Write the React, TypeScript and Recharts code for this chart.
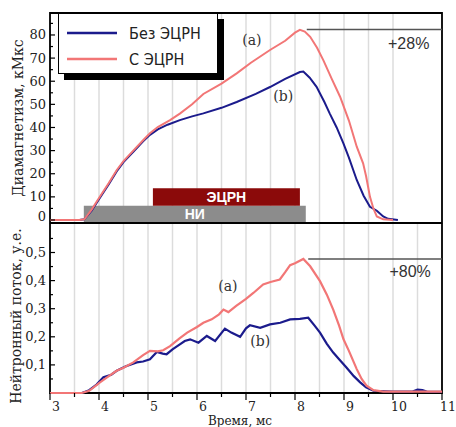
import { LineChart, Line, XAxis, YAxis, CartesianGrid, ReferenceArea, ReferenceLine, ReferenceDot, Legend } from "recharts";

const SERIF = "'DejaVu Serif', serif";
const SANS = "'Liberation Sans', Arial, sans-serif";

// time axis, ms
const timeTicks = [3, 3.5, 4, 4.5, 5, 5.5, 6, 6.5, 7, 7.5, 8, 8.5, 9, 9.5, 10, 10.5, 11];
const diaTicks = [0, 5, 10, 15, 20, 25, 30, 35, 40, 45, 50, 55, 60, 65, 70, 75, 80, 85];
const fluxTicks = [0.05, 0.1, 0.15, 0.2, 0.25, 0.3, 0.35, 0.4, 0.45, 0.5, 0.55];

// диамагнетизм, кМкс
const diaNoEcrh = [
  { t: 3.0, v: 0 }, { t: 3.6, v: 0 }, { t: 3.7, v: 0.3 }, { t: 3.85, v: 4 }, { t: 4.0, v: 9 },
  { t: 4.2, v: 15.5 }, { t: 4.36, v: 21 }, { t: 4.5, v: 25 }, { t: 4.7, v: 29.5 }, { t: 4.9, v: 34 },
  { t: 5.04, v: 36.8 }, { t: 5.2, v: 39.2 }, { t: 5.4, v: 41.2 }, { t: 5.65, v: 43.2 }, { t: 5.9, v: 44.8 },
  { t: 6.13, v: 46.1 }, { t: 6.5, v: 48.5 }, { t: 6.81, v: 51 }, { t: 7.2, v: 54.5 }, { t: 7.49, v: 57.5 },
  { t: 7.8, v: 61 }, { t: 8.1, v: 64 }, { t: 8.17, v: 64.2 }, { t: 8.3, v: 61.5 }, { t: 8.44, v: 57.6 },
  { t: 8.6, v: 51 }, { t: 8.71, v: 46 }, { t: 8.85, v: 40 }, { t: 8.99, v: 33 }, { t: 9.1, v: 27 },
  { t: 9.26, v: 17.3 }, { t: 9.4, v: 10.5 }, { t: 9.53, v: 5.7 }, { t: 9.67, v: 4 }, { t: 9.8, v: 1.5 },
  { t: 9.9, v: 0.5 }, { t: 10.1, v: 0 },
];
const diaEcrh = [
  { t: 3.0, v: 0 }, { t: 3.6, v: 0 }, { t: 3.7, v: 0.3 }, { t: 3.85, v: 4.5 }, { t: 4.0, v: 9.5 },
  { t: 4.2, v: 16 }, { t: 4.36, v: 21.5 }, { t: 4.5, v: 25.5 }, { t: 4.7, v: 30 }, { t: 4.9, v: 34.5 },
  { t: 5.04, v: 37.5 }, { t: 5.2, v: 40.2 }, { t: 5.45, v: 43.2 }, { t: 5.65, v: 46 }, { t: 5.9, v: 50 },
  { t: 6.13, v: 54.5 }, { t: 6.5, v: 59 }, { t: 6.81, v: 63.4 }, { t: 7.1, v: 68 }, { t: 7.49, v: 73.5 },
  { t: 7.8, v: 77.5 }, { t: 8.0, v: 81 }, { t: 8.1, v: 82.2 }, { t: 8.2, v: 81.5 }, { t: 8.31, v: 79.2 },
  { t: 8.45, v: 74.5 }, { t: 8.58, v: 69 }, { t: 8.75, v: 61 }, { t: 8.92, v: 53.3 }, { t: 9.1, v: 43 },
  { t: 9.26, v: 31.7 }, { t: 9.39, v: 24.5 }, { t: 9.45, v: 19 }, { t: 9.53, v: 10 }, { t: 9.6, v: 5 },
  { t: 9.67, v: 1.5 }, { t: 9.8, v: 0.3 }, { t: 10.0, v: 0 },
];

// нейтронный поток, у.е.
const fluxNoEcrh = [
  { t: 3.0, v: 0 }, { t: 3.65, v: 0 }, { t: 3.8, v: 0.01 }, { t: 3.95, v: 0.03 }, { t: 4.09, v: 0.056 },
  { t: 4.25, v: 0.065 }, { t: 4.36, v: 0.079 }, { t: 4.55, v: 0.095 }, { t: 4.77, v: 0.109 }, { t: 4.9, v: 0.112 },
  { t: 5.04, v: 0.12 }, { t: 5.18, v: 0.146 }, { t: 5.3, v: 0.14 }, { t: 5.38, v: 0.138 }, { t: 5.5, v: 0.155 },
  { t: 5.65, v: 0.173 }, { t: 5.75, v: 0.185 }, { t: 5.86, v: 0.191 }, { t: 6.03, v: 0.179 }, { t: 6.2, v: 0.203 },
  { t: 6.37, v: 0.185 }, { t: 6.57, v: 0.229 }, { t: 6.7, v: 0.215 }, { t: 6.88, v: 0.2 }, { t: 7.0, v: 0.23 },
  { t: 7.08, v: 0.241 }, { t: 7.29, v: 0.232 }, { t: 7.49, v: 0.244 }, { t: 7.7, v: 0.25 }, { t: 7.9, v: 0.262 },
  { t: 8.1, v: 0.264 }, { t: 8.27, v: 0.268 }, { t: 8.4, v: 0.24 }, { t: 8.51, v: 0.215 }, { t: 8.65, v: 0.175 },
  { t: 8.78, v: 0.144 }, { t: 8.9, v: 0.12 }, { t: 9.05, v: 0.091 }, { t: 9.2, v: 0.06 }, { t: 9.33, v: 0.038 },
  { t: 9.45, v: 0.02 }, { t: 9.6, v: 0.008 }, { t: 10.0, v: 0.005 }, { t: 10.4, v: 0.005 }, { t: 10.5, v: 0.012 },
  { t: 10.6, v: 0.01 }, { t: 10.7, v: 0.004 }, { t: 11.0, v: 0.004 },
];
const fluxEcrh = [
  { t: 3.0, v: 0 }, { t: 3.65, v: 0 }, { t: 3.8, v: 0.008 }, { t: 4.02, v: 0.038 }, { t: 4.2, v: 0.06 },
  { t: 4.36, v: 0.079 }, { t: 4.5, v: 0.09 }, { t: 4.7, v: 0.109 }, { t: 4.9, v: 0.135 }, { t: 5.04, v: 0.15 },
  { t: 5.2, v: 0.148 }, { t: 5.31, v: 0.152 }, { t: 5.45, v: 0.167 }, { t: 5.65, v: 0.195 }, { t: 5.8, v: 0.215 },
  { t: 6.0, v: 0.235 }, { t: 6.13, v: 0.25 }, { t: 6.3, v: 0.262 }, { t: 6.45, v: 0.28 }, { t: 6.54, v: 0.297 },
  { t: 6.64, v: 0.288 }, { t: 6.8, v: 0.31 }, { t: 7.0, v: 0.335 }, { t: 7.15, v: 0.356 }, { t: 7.35, v: 0.386 },
  { t: 7.5, v: 0.395 }, { t: 7.69, v: 0.404 }, { t: 7.8, v: 0.43 }, { t: 7.9, v: 0.455 }, { t: 8.0, v: 0.462 },
  { t: 8.17, v: 0.477 }, { t: 8.31, v: 0.451 }, { t: 8.51, v: 0.398 }, { t: 8.65, v: 0.35 }, { t: 8.78, v: 0.297 },
  { t: 8.9, v: 0.24 }, { t: 8.99, v: 0.191 }, { t: 9.1, v: 0.15 }, { t: 9.26, v: 0.085 }, { t: 9.36, v: 0.05 },
  { t: 9.46, v: 0.026 }, { t: 9.6, v: 0.01 }, { t: 9.8, v: 0.005 }, { t: 10.5, v: 0.005 }, { t: 11.0, v: 0.005 },
];

const BLUE = "#1b1b8c";
const PINK = "#f27676";

const isMult = (v: number, step: number) => Math.abs(v / step - Math.round(v / step)) < 1e-6;

function yTick(step: number, fmt: (v: number) => string, zeroShift = 0) {
  return (p: any) => {
    const v = p.payload.value;
    const major = isMult(v, step);
    const ty = v === 0 ? p.y + zeroShift : p.y;
    return (
      <g>
        <line x1={p.x} x2={p.x + (major ? 5 : 3)} y1={p.y} y2={p.y} stroke="#000" strokeWidth={1.2} />
        {major && (
          <text x={p.x - 4} y={ty} textAnchor="end" dominantBaseline="central" fontFamily={SERIF} fontSize={13} fill="#222">
            {fmt(v)}
          </text>
        )}
      </g>
    );
  };
}

function xTick(p: any) {
  const v = p.payload.value;
  const major = isMult(v, 1);
  return (
    <g>
      <line x1={p.x} x2={p.x} y1={p.y} y2={p.y + (major ? 7 : 4)} stroke="#000" strokeWidth={1.2} />
      {major && (
        <text x={p.x + 6} y={p.y + 13} textAnchor="middle" dominantBaseline="central" fontFamily={SERIF} fontSize={12.5} fill="#222">
          {v}
        </text>
      )}
    </g>
  );
}

function yLabel(text: string, dx: number, dy: number) {
  return (p: any) => {
    const vb = p.viewBox;
    const cx = vb.x + dx;
    const cy = vb.y + vb.height / 2 + dy;
    return (
      <text x={cx} y={cy} transform={`rotate(-90 ${cx} ${cy})`} textAnchor="middle" dominantBaseline="central" fontFamily={SERIF} fontSize={14} fill="#222">
        {text}
      </text>
    );
  };
}

function xLabel(text: string) {
  return (p: any) => {
    const vb = p.viewBox;
    return (
      <text x={vb.x + vb.width / 2 - 6} y={vb.y + vb.height - 2} textAnchor="middle" fontFamily={SERIF} fontSize={12} fill="#222">
        {text}
      </text>
    );
  };
}

function LegendBox(props: any) {
  const items = props.payload || [];
  return (
    <div style={{ width: 158, height: 59, background: "#fff", border: "1.5px solid #000", boxShadow: "6px 6px 0 #000", position: "relative" }}>
      {items.map((it: any, i: number) => (
        <div key={i} style={{ position: "absolute", left: 0, top: 6 + i * 26, height: 26, display: "flex", alignItems: "center" }}>
          <svg width={70} height={6} style={{ display: "block" }}>
            <line x1={8} x2={58} y1={3} y2={3} stroke={it.color} strokeWidth={2.5} />
          </svg>
          <span style={{ fontFamily: "'Liberation Sans Narrow', 'DejaVu Sans Condensed', sans-serif", fontSize: 16, color: "#222" }}>{it.value}</span>
        </div>
      ))}
    </div>
  );
}

const note = (value: string, font = SERIF, size = 14) => ({
  value,
  position: "center" as const,
  fill: "#333",
  fontFamily: font,
  fontSize: size,
});

export default function App() {
  return (
    <div style={{ position: "absolute", left: 0, top: 0, width: 456, height: 427, background: "#fff" }}>
      <div style={{ position: "absolute", left: 0, top: 0 }}>
        <LineChart width={456} height={224} margin={{ top: 13, right: 14, bottom: 1, left: 0 }}>
          <CartesianGrid horizontal={false} stroke="#dcdcdc" strokeWidth={1.5} />
          <XAxis type="number" dataKey="t" domain={[3, 11]} ticks={timeTicks} hide />
          <YAxis
            type="number"
            domain={[-1.3, 89.5]}
            ticks={diaTicks}
            width={50}
            axisLine={false}
            tickLine={false}
            tickSize={0}
            tickMargin={0}
            interval={0}
            tick={yTick(10, (v) => String(v), -3)}
            label={{ content: yLabel("Диамагнетизм, кМкс", 18, 0) }}
          />
          <ReferenceArea x1={3.69} x2={8.22} y1={-1.3} y2={6.2} fill="#8c8c8c" fillOpacity={1} stroke="none"
            label={{ value: "НИ", position: "center", fill: "#fff", fontFamily: SANS, fontWeight: 700, fontSize: 14 }} />
          <ReferenceArea x1={5.1} x2={8.1} y1={6.2} y2={13.7} fill="#8b0a0a" fillOpacity={1} stroke="none"
            label={{ value: "ЭЦРН", position: "center", fill: "#fff", fontFamily: SANS, fontWeight: 700, fontSize: 14 }} />
          <ReferenceLine segment={[{ x: 8.24, y: 82.4 }, { x: 11, y: 82.4 }]} stroke="#555" strokeWidth={1.5} />
          <Line data={diaNoEcrh} dataKey="v" name="Без ЭЦРН" type="linear" stroke={BLUE} strokeWidth={2} dot={false} isAnimationActive={false} />
          <Line data={diaEcrh} dataKey="v" name="С ЭЦРН" type="linear" stroke={PINK} strokeWidth={2} dot={false} isAnimationActive={false} />
          <ReferenceDot x={7.12} y={77.8} r={0} fill="none" stroke="none" label={note("(a)")} />
          <ReferenceDot x={7.76} y={53.6} r={0} fill="none" stroke="none" label={note("(b)")} />
          <ReferenceDot x={10.32} y={76.3} r={0} fill="none" stroke="none" label={note("+28%", SANS, 16)} />
          <ReferenceArea x1={3} x2={11} y1={-1.3} y2={89.5} fill="none" stroke="#000" strokeWidth={1.8} />
          <Legend layout="horizontal" verticalAlign="middle" content={<LegendBox />} wrapperStyle={{ left: 58, top: 13, width: 162, height: 63 }} />
        </LineChart>
      </div>
      <div style={{ position: "absolute", left: 0, top: 223 }}>
        <LineChart width={456} height={204} margin={{ top: 0, right: 14, bottom: 0, left: 0 }}>
          <CartesianGrid horizontal={false} stroke="#dcdcdc" strokeWidth={1.5} />
          <XAxis
            type="number"
            dataKey="t"
            domain={[3, 11]}
            ticks={timeTicks}
            interval={0}
            height={34}
            axisLine={false}
            tickLine={false}
            tickSize={0}
            tickMargin={0}
            tick={xTick}
            label={{ content: xLabel("Время, мс") }}
          />
          <YAxis
            type="number"
            domain={[0, 0.605]}
            ticks={fluxTicks}
            width={50}
            axisLine={false}
            tickLine={false}
            tickSize={0}
            tickMargin={0}
            interval={0}
            tick={yTick(0.1, (v) => v.toFixed(1).replace(".", ","))}
            label={{ content: yLabel("Нейтронный поток, у.е.", 16, 8) }}
          />
          <ReferenceLine segment={[{ x: 8.27, y: 0.477 }, { x: 11, y: 0.477 }]} stroke="#555" strokeWidth={1.5} />
          <Line data={fluxNoEcrh} dataKey="v" name="Без ЭЦРН" type="linear" stroke={BLUE} strokeWidth={2.2} dot={false} isAnimationActive={false} />
          <Line data={fluxEcrh} dataKey="v" name="С ЭЦРН" type="linear" stroke={PINK} strokeWidth={2.2} dot={false} isAnimationActive={false} />
          <ReferenceDot x={6.63} y={0.379} r={0} fill="none" stroke="none" label={note("(a)")} />
          <ReferenceDot x={7.29} y={0.184} r={0} fill="none" stroke="none" label={note("(b)")} />
          <ReferenceDot x={10.35} y={0.432} r={0} fill="none" stroke="none" label={note("+80%", SANS, 16)} />
          <ReferenceArea x1={3} x2={11} y1={0} y2={0.605} fill="none" stroke="#000" strokeWidth={1.8} />
        </LineChart>
      </div>
    </div>
  );
}
